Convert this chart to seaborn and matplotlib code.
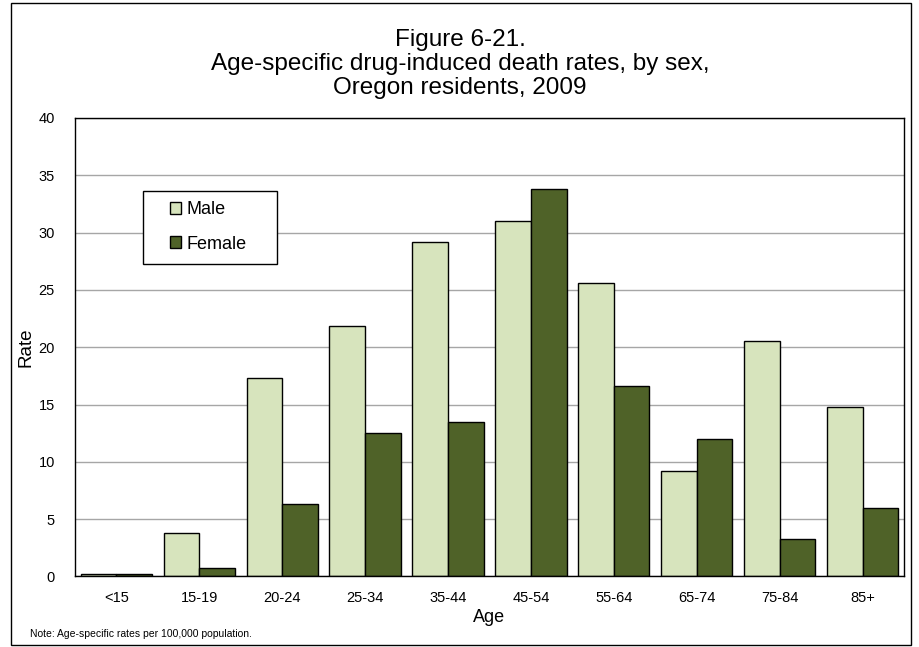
import pandas as pd
import matplotlib.pyplot as plt
import seaborn as sns
from matplotlib.patches import Rectangle

ages = ['<15', '15-19', '20-24', '25-34', '35-44', '45-54', '55-64', '65-74', '75-84', '85+']
male = [0.25, 3.75, 17.35, 21.85, 29.2, 31.05, 25.6, 9.2, 20.5, 14.8]
female = [0.25, 0.7, 6.3, 12.5, 13.5, 33.8, 16.65, 12.0, 3.3, 5.95]

df = pd.DataFrame({
    'Age': ages * 2,
    'Rate': male + female,
    'Sex': ['Male'] * len(ages) + ['Female'] * len(ages),
})

sns.set_style('white')
plt.rcParams['font.family'] = ['Liberation Sans', 'DejaVu Sans']
for k in ['text.color', 'axes.labelcolor', 'xtick.color', 'ytick.color']:
    plt.rcParams[k] = 'black'

fig = plt.figure(figsize=(9.2, 6.47), dpi=100)
ax = fig.add_axes([0.0815, 0.109, 0.9011, 0.7087])

sns.barplot(data=df, x='Age', y='Rate', hue='Sex', order=ages, hue_order=['Male', 'Female'],
            palette=['#D7E4BD', '#4F6228'], edgecolor='black', linewidth=1, width=0.86,
            saturation=1, ax=ax)

ax.set_ylim(0, 40)
ax.set_yticks(range(0, 41, 5))
ax.yaxis.grid(True, color='#A6A6A6', linewidth=1)
ax.set_axisbelow(True)
ax.tick_params(axis='y', labelsize=10.5, left=False, pad=11)
ax.tick_params(axis='x', labelsize=10.5, bottom=False, pad=7)
for s in ax.spines.values():
    s.set_color('black')
    s.set_linewidth(1)
ax.set_xlabel('Age', fontsize=13, labelpad=3)
ax.set_ylabel('Rate', fontsize=13.5, labelpad=3)

# legend box drawn separately so the side padding can be wider than the top/bottom
ax.add_patch(Rectangle((0.082, 0.6816), 0.1619, 0.1592, transform=ax.transAxes,
                       facecolor='white', edgecolor='black', linewidth=1, zorder=4))
leg = ax.legend(loc='upper left', bbox_to_anchor=(0.1146, 0.818), fontsize=13, frameon=False,
                handlelength=0.6, handleheight=0.6, handletextpad=0.3, labelspacing=0.95,
                borderpad=0, borderaxespad=0)
leg.set_zorder(5)

fig.text(0.5, 0.901, 'Figure 6-21.\nAge-specific drug-induced death rates, by sex,\nOregon residents, 2009',
         ha='center', va='center', fontsize=17.5, linespacing=1.12)
fig.text(0.033, 0.015, 'Note: Age-specific rates per 100,000 population.', fontsize=7.5, ha='left')

fig.patches.append(Rectangle((0.012, 0.003), 0.978, 0.992, transform=fig.transFigure,
                             fill=False, edgecolor='black', linewidth=1))

fig.savefig('out.png', dpi=100)
